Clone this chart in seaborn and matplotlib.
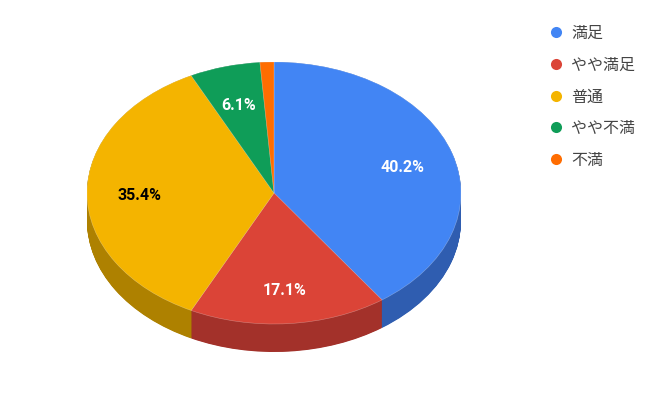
import numpy as np
import matplotlib
matplotlib.use("Agg")
import matplotlib.pyplot as plt
from matplotlib.lines import Line2D
import seaborn as sns

sns.set_style("white")
plt.rcParams['font.family'] = ['Noto Sans CJK JP', 'DejaVu Sans']

# データ
labels = ['満足', 'やや満足', '普通', 'やや不満', '不満']
values = [40.2, 17.1, 35.4, 6.1, 1.2]
top_colors = ['#4285F4', '#DB4437', '#F4B400', '#0F9D58', '#FF6D01']
side_colors = ['#2F5DB0', '#A3312A', '#AE8100', '#0B7040', '#B54D01']
pct_colors = ['white', 'white', 'black', 'white', 'white']

# 画像のピクセル寸法
W, H = 667, 415
cx, cy = 274, 193      # 上面の中心 (px, 上から)
rx, ry = 187, 131      # 楕円の半径 (px)
depth = 28 / ry        # 側面の厚み (pie 単位)

fig = plt.figure(figsize=(W / 100, H / 100), dpi=100)
ax = fig.add_axes([0, 0, 1, 1])

# 側面: ずらしたパイを重ねて描く
for d in np.linspace(depth, 0.0, 60):
    ax.pie(values, colors=side_colors, startangle=90, counterclock=False,
           center=(0, -d), radius=1, frame=True,
           wedgeprops=dict(linewidth=0, antialiased=True))

# 上面
wedges, texts, autotexts = ax.pie(
    values, colors=top_colors, startangle=90, counterclock=False,
    radius=1, frame=True, pctdistance=0.72,
    autopct=lambda p: f'{p:.1f}%' if p > 2 else '',
    wedgeprops=dict(linewidth=0.4, edgecolor=(1, 1, 1, 0.35)))
for t, c in zip(autotexts, pct_colors):
    x, y = t.get_position()
    t.set_position((x, y - 3 / ry))
    t.set_color(c)
    t.set_fontsize(11.5)
    t.set_fontweight('bold')
    t.set_family(['Roboto', 'DejaVu Sans'])

ax.set_aspect('auto')
ax.set_xlim(-cx / rx, (W - cx) / rx)
ax.set_ylim(-(H - cy) / ry, cy / ry)
ax.axis('off')

# 凡例
handles = [Line2D([0], [0], marker='o', linestyle='', markersize=8,
                  markerfacecolor=c, markeredgewidth=0) for c in top_colors]
leg = fig.legend(handles, labels, loc='upper left',
                 bbox_to_anchor=(548 / W, 1 - 25 / H), frameon=False,
                 handlelength=1.0, handletextpad=0.45, labelspacing=0.92,
                 borderpad=0, borderaxespad=0, fontsize=11.5)
for t in leg.get_texts():
    t.set_color('#444444')

fig.savefig('out.png', dpi=100)
